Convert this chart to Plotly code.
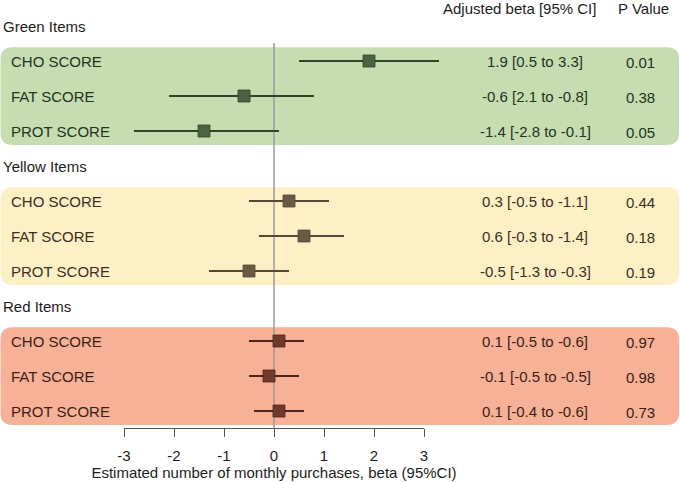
import plotly.graph_objects as go

# dados
grupos = ["Green Items", "Yellow Items", "Red Items"]
scores = ["CHO SCORE", "FAT SCORE", "PROT SCORE"]

beta_green = [1.9, -0.6, -1.4]
lo_green = [0.5, -2.1, -2.8]
hi_green = [3.3, 0.8, 0.1]

beta_yellow = [0.3, 0.6, -0.5]
lo_yellow = [-0.5, -0.3, -1.3]
hi_yellow = [1.1, 1.4, 0.3]

beta_red = [0.1, -0.1, 0.1]
lo_red = [-0.5, -0.5, -0.4]
hi_red = [0.6, 0.5, 0.6]

ci_green = ["1.9 [0.5 to 3.3]", "-0.6 [2.1 to -0.8]", "-1.4 [-2.8 to -0.1]"]
ci_yellow = ["0.3 [-0.5 to -1.1]", "0.6 [-0.3 to -1.4]", "-0.5 [-1.3 to -0.3]"]
ci_red = ["0.1 [-0.5 to -0.6]", "-0.1 [-0.5 to -0.5]", "0.1 [-0.4 to -0.6]"]

p_green = ["0.01", "0.38", "0.05"]
p_yellow = ["0.44", "0.18", "0.19"]
p_red = ["0.97", "0.98", "0.73"]

tick_vals = [-3, -2, -1, 0, 1, 2, 3]
tick_labels = ["-3", "-2", "-1", "0", "1", "2", "3"]

### ESTILO
W, H = 680, 482
PX_X0, PX_UNIT = 274, 50      # pixel do zero, pixels por unidade
PX_Y0, PX_ROW = 26, 35        # pixel da linha 0, pixels por linha
FONT = "Liberation Sans, Arial, sans-serif"

fill = ["#c6ddb1", "#fdf0c4", "#f6b196"]
txt = ["#22331e", "#3b2f1f", "#3a1e16"]
mark = ["#4a6441", "#6b5a44", "#6d3a2c"]
linha = ["#2e4529", "#56473a", "#4e2419"]

dados = [
    (beta_green, lo_green, hi_green, ci_green, p_green),
    (beta_yellow, lo_yellow, hi_yellow, ci_yellow, p_yellow),
    (beta_red, lo_red, hi_red, ci_red, p_red),
]

def px2x(p):
    return (p - PX_X0) / PX_UNIT

def px2y(p):
    return (p - PX_Y0) / PX_ROW

fig = go.Figure()
shapes = []
annots = []

def texto(xpx, y, s, cor, anchor):
    annots.append(dict(x=xpx / W, xref="paper", y=y, yref="y", text=s,
                       showarrow=False, xanchor=anchor, yanchor="middle",
                       borderpad=0, font=dict(size=15, color=cor)))

for g, (beta, lo, hi, ci, pv) in enumerate(dados):
    linhas = [4 * g + 1 + i for i in range(len(scores))]
    # caixa arredondada
    x0, x1 = px2x(0.5), px2x(679)
    y0, y1 = linhas[0] - 0.39, linhas[-1] + 0.4
    rx, ry = 12 / PX_UNIT, 12 / PX_ROW
    path = (f"M {x0+rx},{y0} L {x1-rx},{y0} Q {x1},{y0} {x1},{y0+ry} "
            f"L {x1},{y1-ry} Q {x1},{y1} {x1-rx},{y1} L {x0+rx},{y1} "
            f"Q {x0},{y1} {x0},{y1-ry} L {x0},{y0+ry} Q {x0},{y0} {x0+rx},{y0} Z")
    shapes.append(dict(type="path", path=path, xref="x", yref="y",
                       fillcolor=fill[g], line=dict(width=0), layer="below"))
    texto(2, 4 * g, grupos[g], "#1c1c1c", "left")
    for i, r in enumerate(linhas):
        texto(10, r, scores[i], txt[g], "left")
        texto(535, r, ci[i], txt[g], "center")
        texto(640, r + 0.04, pv[i], txt[g], "center")

# linha vertical do zero
fig.add_trace(go.Scatter(x=[0, 0], y=[px2y(43), px2y(428)], mode="lines",
                         line=dict(color="#9a9a9a", width=1.5), hoverinfo="skip"))

for g, (beta, lo, hi, ci, pv) in enumerate(dados):
    linhas = [4 * g + 1 + i for i in range(len(scores))]
    fig.add_trace(go.Scatter(
        x=beta, y=linhas, mode="markers",
        marker=dict(symbol="square", size=12, color=mark[g],
                    line=dict(color=linha[g], width=0.8)),
        error_x=dict(type="data", symmetric=False,
                     array=[h - b for h, b in zip(hi, beta)],
                     arrayminus=[b - l for b, l in zip(beta, lo)],
                     color=linha[g], thickness=2, width=0),
        cliponaxis=False, hoverinfo="skip"))

# eixo de baixo (x2)
fig.add_trace(go.Scatter(x=[tick_vals[0], tick_vals[-1]], y=[5, 5], xaxis="x2",
                         mode="markers", marker=dict(opacity=0), hoverinfo="skip"))

# cabecalho
texto(519, px2y(8), "Adjusted beta [95% CI]", "#1c1c1c", "center")
texto(643, px2y(8), "P Value", "#1c1c1c", "center")

fig.update_layout(
    width=W, height=H, autosize=False, margin=dict(l=0, r=0, t=0, b=0, pad=0),
    paper_bgcolor="white", plot_bgcolor="rgba(0,0,0,0)", showlegend=False,
    font=dict(family=FONT, size=15, color="#1c1c1c"),
    shapes=shapes, annotations=annots,
    xaxis=dict(range=[px2x(0), px2x(W)], visible=False, fixedrange=True, automargin=False),
    yaxis=dict(range=[px2y(H), px2y(0)], visible=False, fixedrange=True, automargin=False),
    xaxis2=dict(domain=[124 / W, 424 / W], range=[tick_vals[0], tick_vals[-1]],
                anchor="free", position=1 - 428.3 / H, showgrid=False, zeroline=False,
                automargin=False, fixedrange=True,
                showline=True, linecolor="#555555", linewidth=1,
                ticks="outside", ticklen=8, tickcolor="#555555", tickwidth=1,
                tickvals=tick_vals, ticktext=tick_labels, ticklabelstandoff=6,
                tickfont=dict(size=15, color="#1c1c1c"),
                title=dict(text="Estimated number of monthly purchases, beta (95%CI)",
                           font=dict(size=15, color="#1c1c1c"), standoff=4)),
)

# tira a margem do body para a figura ficar no canto da janela
fig.write_html("out.html", config={"displayModeBar": False},
               post_script="document.body.style.margin='0';")
